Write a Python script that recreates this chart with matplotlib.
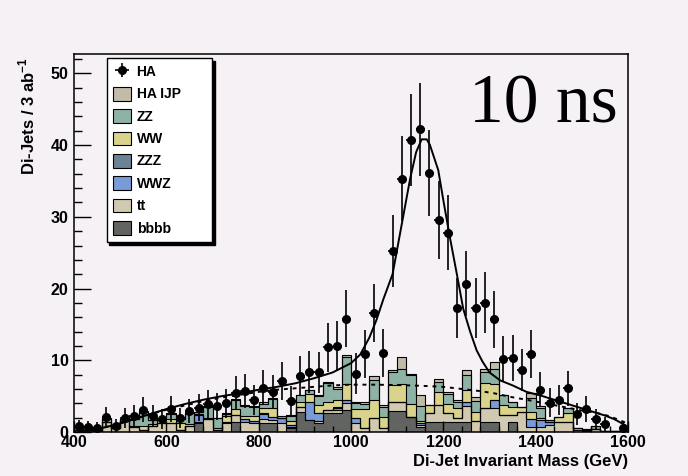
import numpy as np
import matplotlib
matplotlib.use('Agg')
import matplotlib.pyplot as plt
from matplotlib.patches import Patch
from matplotlib.ticker import MultipleLocator

plt.rcParams['font.family'] = ['Liberation Sans', 'DejaVu Sans']
plt.rcParams['font.weight'] = 'bold'
plt.rcParams['mathtext.fontset'] = 'custom'
plt.rcParams['mathtext.bf'] = 'Liberation Sans:bold'
plt.rcParams['mathtext.rm'] = 'Liberation Sans:bold'

# 60 bins of 20 GeV between 400 and 1600
edges = np.arange(400, 1620, 20)
centers = edges[:-1] + 10

# HA signal sample (events per bin)
ha_data = [0.8, 0.7, 0.6, 2.1, 0.9, 2.0, 2.3, 3.1, 2.3, 1.8,
           3.2, 1.95, 2.9, 3.4, 3.9, 3.6, 4.0, 5.5, 5.7, 4.5,
           6.2, 5.6, 7.1, 4.3, 7.8, 8.4, 8.3, 11.8, 12.0, 15.8,
           8.1, 10.9, 16.6, 11.0, 25.2, 35.3, 40.7, 42.2, 36.1, 29.5,
           27.8, 17.3, 20.7, 17.3, 18.0, 15.7, 10.2, 10.3, 8.6, 10.9,
           5.9, 4.1, 4.5, 6.1, 2.5, 3.2, 1.8, 1.1, 0.0, 0.6]

# backgrounds, stacked from bottom (bbbb) to top (HA IJP)
bbbb = [0, 0, 0, 0, 0, 0, 0, 0, 0, 0,
        0, 0, 0, 1.2, 0, 0, 0, 1.45, 0, 0,
        1.2, 1.2, 0, 0.5, 2.8, 1.65, 1.3, 2.6, 2.6, 3.05,
        0, 0, 0, 0, 2.95, 2.95, 2.1, 0.65, 1.45, 1.45,
        1.45, 1.45, 1.45, 0, 1.45, 1.45, 0, 1.45, 0, 0,
        0, 0, 0, 0, 0, 0, 0, 0, 0, 0]
tt = [0.3, 0.25, 0.2, 1.45, 0.5, 1.5, 0.7, 0.3, 0.8, 1.2,
      1.3, 0.3, 0.9, 0.2, 1.8, 0.3, 1.2, 0.9, 1.45, 1.3,
      0.6, 0.5, 1.2, 0.2, 0.7, 0, 0.3, 0.4, 0.5, 0.93,
      1.2, 0.5, 2.0, 0.5, 1.25, 1.25, 0, 0.3, 1.15, 2.3,
      1.2, 0.45, 2.2, 1.6, 1.85, 1.85, 2.35, 0.95, 2.8, 0.65,
      0.75, 1.0, 1.45, 1.45, 0.25, 0.2, 0.4, 0.2, 0.1, 0.1]
wwz = [0, 0, 0, 0, 0, 0, 0, 0, 0, 0,
       0, 0, 0, 1.0, 0, 0.05, 0.25, 0, 0.3, 0.3,
       0.7, 0.45, 0.75, 0.25, 0, 2.55, 1.1, 0.1, 0.25, 0.46,
       0.8, 0, 0, 0, 0, 0, 0, 0.35, 0, 0,
       0, 0, 0.6, 0, 0, 1.15, 0, 0, 0, 1.1,
       0.9, 0.45, 0, 0, 0, 0, 0, 0, 0, 0]
zzz = [0, 0, 0, 0, 0, 0, 0, 0, 0, 0,
       0, 0, 0, 0, 0, 0, 0, 0, 0, 0,
       0.1, 0, 0, 0, 0, 0, 0, 0, 0.1, 0,
       0, 0, 0, 0, 0, 0, 0, 0, 0, 0,
       0, 0, 0, 0, 0, 0, 0, 0, 0, 0.1,
       0, 0, 0, 0, 0, 0, 0, 0, 0, 0]
ww = [0.2, 0, 0, 0.35, 0, 0.25, 0.1, 0.55, 0.3, 0.45,
      0.5, 0.9, 0.2, 0.05, 0.15, 0.15, 0.85, 0.8, 0.45, 0.6,
      0.7, 1.15, 0, 0.6, 0.7, 1.05, 1.0, 1.15, 1.0, 2.3,
      1.25, 2.65, 2.4, 1.6, 2.3, 2.55, 1.85, 0.2, 1.15, 1.85,
      1.3, 1.4, 1.6, 1.2, 3.5, 2.3, 1.4, 1.15, 0.7, 0.9,
      0.3, 0, 0.6, 1.25, 0.25, 0.15, 0, 0, 0, 0]
zz = [0, 0, 0, 0, 0, 0, 1.0, 2.0, 0.6, 0.35,
      0.75, 0.55, 1.5, 0.3, 1.5, 1.4, 0.15, 1.3, 1.45, 1.3,
      0.6, 1.25, 0, 0.7, 0.9, 0.55, 1.3, 2.55, 1.55, 3.7,
      0.8, 0.75, 2.9, 1.4, 1.85, 2.1, 3.95, 2.1, 0, 1.4,
      1.3, 0.85, 2.1, 1.5, 1.6, 2.1, 1.4, 0.7, 0, 2.0,
      1.4, 0.2, 0, 0.6, 0, 0.05, 0.45, 0, 0, 0]
ha_ijp = [0, 0, 0.05, 0.1, 0, 0, 0, 0.1, 0, 0,
          0.05, 0, 0.05, 0.1, 0.15, 0, 0.2, 0.1, 0.1, 0.1,
          0.25, 0.2, 0.3, 0.1, 0.05, 0.05, 0.1, 0.15, 0.25, 0.3,
          0.1, 0.3, 0.45, 0.25, 0.35, 1.65, 0.2, 1.6, 0.05, 0.35,
          0.3, 0.3, 0.65, 0.55, 0.35, 0.95, 0.05, 0, 0, 0.7,
          0.25, 0.05, 0.05, 0, 0, 0, 0, 0, 0, 0]

# fitted curves: signal + background, background only
fit_mass = [410, 440, 470, 500, 530, 560, 600, 640, 680, 720,
            760, 800, 840, 880, 920, 960, 1000, 1020, 1040, 1055,
            1070, 1090, 1110, 1128, 1141, 1153, 1164, 1171, 1189, 1200,
            1214, 1229, 1243, 1258, 1272, 1285, 1300, 1323, 1350, 1380,
            1410, 1440, 1480, 1520, 1550, 1570, 1590, 1600]
fit_total = [0.1, 0.3, 0.7, 1.2, 1.8, 2.4, 3.2, 3.9, 4.5, 5.0,
             5.4, 5.9, 6.3, 6.8, 7.5, 8.3, 9.6, 10.8, 13.2, 15.6,
             18.5, 22.0, 29.0, 35.3, 39.0, 40.8, 40.8, 40.0, 36.5, 32.3,
             27.2, 22.1, 17.2, 14.0, 11.4, 9.8, 8.3, 7.2, 6.5, 5.6,
             5.1, 4.5, 3.7, 2.9, 2.3, 1.8, 1.1, 0.7]
bkg_mass = [410, 440, 470, 500, 530, 560, 600, 640, 680, 720,
            760, 800, 840, 880, 920, 960, 1000, 1050, 1100, 1150,
            1200, 1240, 1280, 1310, 1345, 1380, 1420, 1460, 1500, 1530,
            1560, 1580, 1595]
bkg_only = [0.1, 0.3, 0.7, 1.2, 1.8, 2.4, 3.1, 3.7, 4.3, 4.8,
            5.2, 5.6, 5.9, 6.1, 6.3, 6.5, 6.6, 6.6, 6.55, 6.45,
            6.3, 6.0, 5.7, 5.4, 4.9, 4.5, 4.0, 3.5, 3.0, 2.7,
            2.2, 1.7, 1.3]

stack = [('bbbb', bbbb, '#626462'),
         ('tt', tt, '#d1c9b0'),
         ('WWZ', wwz, '#7a9bd9'),
         ('ZZZ', zzz, '#6b8297'),
         ('WW', ww, '#d9d38c'),
         ('ZZ', zz, '#8fb2a6'),
         ('HA IJP', ha_ijp, '#c2bba8')]

bg = '#f5f1f5'
fig = plt.figure(figsize=(6.88, 4.76), dpi=100, facecolor=bg)
ax = fig.add_axes([0.1076, 0.0924, 0.8052, 0.7942], facecolor=bg)

# cumulative stack, drawn from the top layer down
cum = np.cumsum([np.array(v, dtype=float) for _, v, _ in stack], axis=0)
for i in reversed(range(len(stack))):
    ax.stairs(cum[i], edges, fill=True, color=stack[i][2], lw=0, zorder=1)
    ax.stairs(cum[i], edges, color='black', lw=0.8, zorder=1.5)

ax.plot(bkg_mass, bkg_only, color='black', lw=1.4, ls=(0, (2, 2.5)), zorder=2)
ax.plot(fit_mass, fit_total, color='black', lw=1.4, zorder=2.5)

y = np.array(ha_data)
keep = y > 0
eb = ax.errorbar(centers[keep], y[keep], yerr=np.sqrt(y[keep]), xerr=10,
                 fmt='o', color='black', ms=5.5, lw=1.2, capsize=0, zorder=3)

ax.set_xlim(400, 1600)
ax.set_ylim(0, 52.7)
ax.xaxis.set_major_locator(MultipleLocator(200))
ax.xaxis.set_minor_locator(MultipleLocator(40))
ax.yaxis.set_major_locator(MultipleLocator(10))
ax.yaxis.set_minor_locator(MultipleLocator(2))
ax.tick_params(axis='y', which='major', direction='in', length=12, width=1, pad=4, labelsize=11.5)
ax.tick_params(axis='y', which='minor', direction='in', length=6, width=1)
ax.tick_params(axis='x', which='major', direction='in', length=8, width=1, pad=2.5, labelsize=11.5)
ax.tick_params(axis='x', which='minor', direction='in', length=4, width=1)
for lbl in ax.get_xticklabels() + ax.get_yticklabels():
    lbl.set_fontweight('bold')
for s in ax.spines.values():
    s.set_linewidth(1.1)

ax.set_xlabel('Di-Jet Invariant Mass (GeV)', fontsize=12, fontweight='bold', loc='right')
ax.xaxis.set_label_coords(1.0, -0.058)
ax.set_ylabel(r'Di-Jets / 3 ab$^{\mathbf{-1}}$', fontsize=12, fontweight='bold', loc='top')
ax.yaxis.set_label_coords(-0.067, 0.99)

ax.text(0.713, 0.818, '10 ns', transform=ax.transAxes, fontsize=50,
        family='Liberation Serif', fontweight='normal', zorder=4)

handles = [eb] + [Patch(facecolor=c, edgecolor='black', lw=0.8) for _, _, c in reversed(stack)]
labels = ['HA'] + [n for n, _, _ in reversed(stack)]
leg = ax.legend(handles, labels, loc='upper left',
                bbox_to_anchor=(0.059, 0.499, 0.19, 0.49), mode='expand',
                fancybox=False, edgecolor='black', facecolor='white', framealpha=1,
                shadow={'color': 'black', 'alpha': 1}, prop={'weight': 'bold', 'size': 10},
                handlelength=1.3, handleheight=1.15, labelspacing=0.56,
                handletextpad=0.4, borderpad=0.45, borderaxespad=0)
leg.get_frame().set_linewidth(1.0)
leg.set_zorder(5)

fig.savefig('out.png', dpi=100, facecolor=bg)
